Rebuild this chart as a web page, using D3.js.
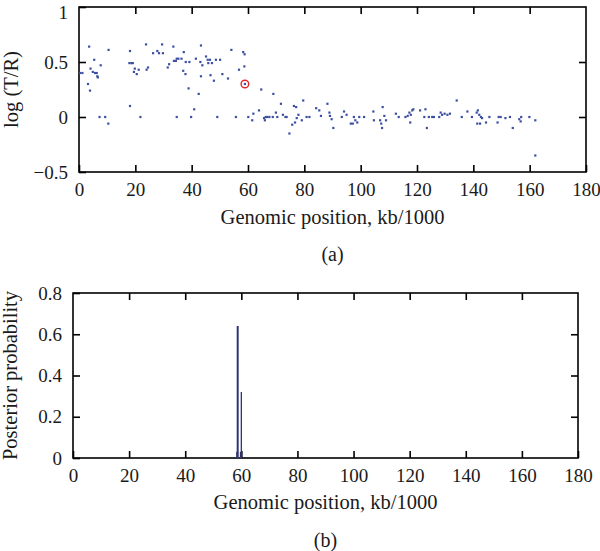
<!DOCTYPE html>
<html>
<head>
<meta charset="utf-8">
<script src="https://cdn.jsdelivr.net/npm/d3@7"></script>
<style>
  body { margin: 0; background: #fff; }
  svg { display: block; font-family: "Liberation Serif", "DejaVu Serif", serif; }
</style>
</head>
<body>
<div id="chart"></div>
<script>
// Panel (a): log ratio per genomic position (kb/1000)
const posA = [
  0.4, 1.2, 3.6, 3.2, 3.9, 4.1, 4.9, 5.4, 5.7, 6.3, 6.5, 6.7, 7.7, 7.3, 9.3, 10.5, 10.4,
  18.1, 17.9, 18.6, 19.1, 18.1, 19.5, 19.8, 20.5, 21.2, 21.8, 23.8, 24.0, 24.5, 26.3, 27.8,
  28.4, 29.5, 29.8, 31.5, 32.0, 33.5, 33.7, 34.4, 34.7, 34.7, 35.3, 36.4, 37.2, 37.0, 37.8,
  37.9, 38.9, 39.2, 39.8, 40.9, 41.5, 42.5, 43.1, 43.3, 43.3, 43.8, 45.1, 45.7, 45.9, 46.5,
  46.7, 47.2, 47.9, 48.6, 49.1, 50.1, 50.9, 52.9, 54.1, 55.7, 56.8, 58.3, 58.8, 58.7,
  60.1, 61.5, 61.9, 63.9, 64.7, 65.7, 66.3, 66.0, 66.9, 67.6, 68.8, 69.0, 69.9, 70.4, 71.7,
  72.4, 73.3, 73.7, 74.7, 75.7, 76.3, 77.1, 76.7, 77.3, 77.9, 79.1, 79.6, 80.8, 81.8, 84.2,
  85.3, 85.9, 88.2, 88.9, 89.1, 89.7, 90.3, 93.3, 94.1, 95.0, 96.5, 97.2, 97.6, 98.1, 98.8,
  99.5, 101.2, 104.5, 104.7, 106.9, 107.3, 107.6, 107.8, 108.4, 109.0, 112.5, 113.5, 115.9,
  116.7, 117.3, 117.6, 117.8, 118.3, 118.7, 121.1, 122.6, 123.0, 123.5, 124.2, 125.4, 126.0,
  127.9, 128.4, 128.9, 129.8, 130.8, 131.7, 134.1, 135.9, 137.9, 139.5, 141.2, 141.6, 141.4,
  142.1, 142.4, 142.7, 143.1, 144.5, 145.7, 148.6, 149.0, 149.7, 151.4, 153.0, 154.0, 156.3,
  156.8, 157.0, 159.9, 162.0, 162.0
];
const logRatio = [
  0.40, 0.40, 0.64, 0.30, 0.24, 0.44, 0.41, 0.52, 0.40, 0.40, 0.37, 0.36, 0.47, 0.00, 0.00, 0.61, -0.06,
  0.60, 0.49, 0.49, 0.49, 0.10, 0.41, 0.44, 0.39, 0.43, 0.00, 0.66, 0.43, 0.45, 0.58, 0.60,
  0.58, 0.66, 0.58, 0.45, 0.48, 0.64, 0.51, 0.51, 0.53, 0.00, 0.53, 0.53, 0.59, 0.42, 0.39,
  0.50, 0.26, 0.50, 0.00, 0.07, 0.53, 0.21, 0.50, 0.65, 0.37, 0.47, 0.55, 0.52, 0.49, 0.52,
  0.38, 0.49, 0.33, 0.52, 0.00, 0.52, 0.39, 0.35, 0.61, 0.00, 0.43, 0.59, 0.57, 0.46,
  0.00, -0.03, 0.03, 0.06, 0.25, -0.01, 0.00, -0.03, 0.00, 0.00, 0.00, 0.21, 0.04, 0.00, 0.12,
  0.02, 0.00, 0.00, -0.15, -0.07, 0.10, 0.09, -0.05, -0.01, 0.02, -0.03, 0.15, 0.00, 0.00, 0.08,
  0.06, 0.01, 0.12, 0.04, 0.01, -0.02, -0.10, 0.00, 0.05, 0.02, -0.06, -0.06, 0.00, -0.03, -0.05,
  0.00, 0.00, 0.05, -0.03, -0.03, -0.06, -0.10, 0.09, 0.01, -0.03, 0.03, 0.00, 0.00,
  0.01, 0.04, -0.05, 0.02, 0.06, 0.07, 0.06, 0.00, 0.07, -0.10, 0.00, 0.00, 0.00,
  0.00, 0.04, 0.02, 0.03, 0.02, 0.03, 0.15, 0.00, 0.05, 0.00, 0.04, 0.06, -0.06,
  0.02, -0.06, 0.00, -0.01, -0.05, 0.00, -0.05, 0.00, 0.00, -0.01, 0.00, -0.10, -0.02,
  -0.04, 0.00, 0.00, -0.03, -0.35
];
// the highlighted breakpoint probe
const markedPos = 58.9;
const markedRatio = 0.30;

// Panel (b): posterior probability of a breakpoint
const posB = [58.4, 58.7, 59.7, 60.0];
const posterior = [0.03, 0.64, 0.03, 0.32];

const xTicks = d3.range(0, 181, 20);
const yTicksA = [-0.5, 0, 0.5, 1];
const yTicksB = [0, 0.2, 0.4, 0.6, 0.8];

const width = 600, height = 551;
const tick = 7;

const svg = d3.select("#chart").append("svg")
  .attr("width", width)
  .attr("height", height);

// draws a boxed panel with inward ticks on all four sides
function drawFrame(x, y, yTicks, yFmt, yRight) {
  const g = svg.append("g");
  const [x0, x1] = x.range();
  const [y0, y1] = y.range();

  g.append("g")
    .attr("transform", `translate(0,${y0})`)
    .call(d3.axisBottom(x).tickValues(xTicks).tickSizeInner(-tick).tickSizeOuter(0).tickPadding(11).tickFormat(d3.format("d")))
    .call(a => a.select(".domain").remove());
  g.append("g")
    .attr("transform", `translate(0,${y1})`)
    .call(d3.axisTop(x).tickValues(xTicks.slice(1, -1)).tickSizeInner(-tick).tickSizeOuter(0).tickFormat(""))
    .call(a => a.select(".domain").remove());
  g.append("g")
    .attr("transform", `translate(${x0},0)`)
    .call(d3.axisLeft(y).tickValues(yTicks).tickSizeInner(-tick).tickSizeOuter(0).tickPadding(11).tickFormat(yFmt))
    .call(a => a.select(".domain").remove());
  g.append("g")
    .attr("transform", `translate(${x1},0)`)
    .call(d3.axisRight(y).tickValues(yRight).tickSizeInner(-tick).tickSizeOuter(0).tickFormat(""))
    .call(a => a.select(".domain").remove());

  g.selectAll(".tick line").attr("stroke", "#000").attr("stroke-width", 1.6);
  g.selectAll(".tick text")
    .attr("fill", "#1a1a1a")
    .style("font-size", "19px")
    .style("font-family", "'Liberation Serif', serif");

  g.append("rect")
    .attr("x", x0).attr("y", y1)
    .attr("width", x1 - x0).attr("height", y0 - y1)
    .attr("fill", "none")
    .attr("stroke", "#000")
    .attr("stroke-width", 1.6);
  return g;
}

function addLabels(x, y, yLabel, yLabelX, titleY, tagY, tag) {
  const [x0, x1] = x.range();
  const [y0, y1] = y.range();
  svg.append("text")
    .attr("x", (x0 + x1) / 2)
    .attr("y", titleY)
    .attr("text-anchor", "middle")
    .attr("fill", "#1a1a1a")
    .style("font-size", "20.5px")
    .text("Genomic position, kb/1000");
  svg.append("text")
    .attr("x", (x0 + x1) / 2)
    .attr("y", tagY)
    .attr("text-anchor", "middle")
    .attr("fill", "#1a1a1a")
    .style("font-size", "20px")
    .text(tag);
  svg.append("text")
    .attr("transform", `translate(${yLabelX},${(y0 + y1) / 2}) rotate(-90)`)
    .attr("text-anchor", "middle")
    .attr("fill", "#1a1a1a")
    .style("font-size", "20.5px")
    .text(yLabel);
}

// ---- Panel (a)
const xA = d3.scaleLinear().domain([0, 180]).range([79, 586]);
const yA = d3.scaleLinear().domain([-0.5, 1]).range([172, 7]);
const fmtA = d => d === 0 ? "0" : d === 1 ? "1" : d3.format(".1f")(d);

const frameA = drawFrame(xA, yA, yTicksA, fmtA, [0, 0.5]);
// keep the top "1" label inside the page
frameA.selectAll(".tick text").filter(d => d === 1).attr("dy", "0.58em");

svg.append("g")
  .selectAll("rect")
  .data(d3.zip(posA, logRatio))
  .join("rect")
  .attr("x", d => xA(d[0]) - 1.1)
  .attr("y", d => yA(d[1]) - 1.1)
  .attr("width", 2.2)
  .attr("height", 2.2)
  .attr("fill", "#3c4fa3");

svg.append("circle")
  .attr("cx", xA(markedPos))
  .attr("cy", yA(markedRatio))
  .attr("r", 3.8)
  .attr("fill", "none")
  .attr("stroke", "#e0262a")
  .attr("stroke-width", 1.4);
svg.append("rect")
  .attr("x", xA(markedPos) - 1.1)
  .attr("y", yA(markedRatio) - 1.1)
  .attr("width", 2.2)
  .attr("height", 2.2)
  .attr("fill", "#3c4fa3");

addLabels(xA, yA, "log (T/R)", 18, 224, 261, "(a)");

// ---- Panel (b)
const xB = d3.scaleLinear().domain([0, 180]).range([73, 578]);
const yB = d3.scaleLinear().domain([0, 0.8]).range([458, 293]);
const fmtB = d => d === 0 ? "0" : d3.format(".1f")(d);

drawFrame(xB, yB, yTicksB, fmtB, [0.2, 0.4, 0.6]);

svg.append("g")
  .selectAll("line")
  .data(d3.zip(posB, posterior))
  .join("line")
  .attr("x1", d => xB(d[0]))
  .attr("x2", d => xB(d[0]))
  .attr("y1", yB(0))
  .attr("y2", d => yB(d[1]))
  .attr("stroke", "#2e3474")
  .attr("stroke-width", (d, i) => i === 1 ? 2 : 1.3);

addLabels(xB, yB, "Posterior probability", 17, 509, 547, "(b)");
</script>
</body>
</html>
